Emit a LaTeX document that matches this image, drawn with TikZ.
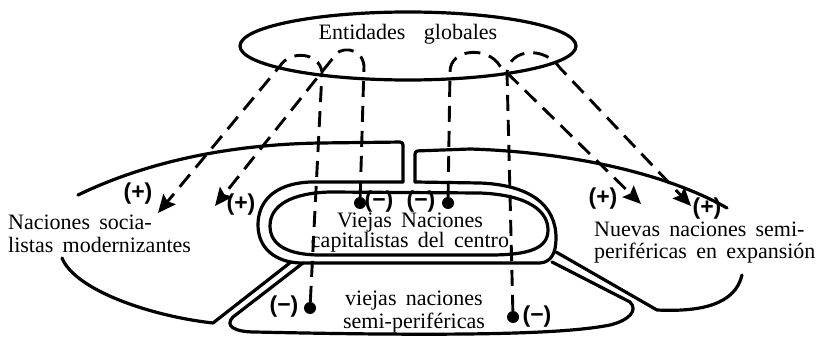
\documentclass[tikz,border=0pt]{standalone}
\usepackage{fontspec}
\setmainfont{Liberation Serif}
\newfontfamily\signfont{Liberation Sans}
\usetikzlibrary{arrows.meta, shapes.geometric}

\newcommand\lblfont{\fontsize{22}{23}\selectfont\setlength\spaceskip{0.42em}}

\tikzset{
  edgeline/.style={line width=3.2pt, line join=round, line cap=round},
  dashline/.style={line width=2.9pt, dash pattern=on 16pt off 9pt},
  arrowtip/.style={-{Stealth[length=18pt, width=16pt, inset=3pt]}},
  lbl/.style={inner sep=0pt, font=\lblfont},
  signlbl/.style={inner sep=0pt, font=\signfont\fontsize{23}{23}\selectfont\bfseries},
  blob/.style={circle, fill, inner sep=0pt, minimum size=12pt},
}

\begin{document}
\begin{tikzpicture}[x=1pt, y=-1pt]
  \useasboundingbox (0,0) rectangle (816,339);

  % Entidades globales
  \node[edgeline, draw, ellipse, minimum width=336pt, minimum height=68pt] (ent) at (408,46) {};
  \node[lbl, anchor=base] (enttxt) at (408,40) {Entidades\ \ globales};

  % left region (Naciones socialistas)
  \draw[edgeline, rounded corners=3pt] (78,195) .. controls (140,165) and (220,145) .. (320,143) -- (403,142) -- (403,182);
  \draw[edgeline] (291,262) -- (213,323) .. controls (150,316) and (75,290) .. (62,258);
  \node[lbl, align=left, anchor=west] (soc) at (8,234) {Naciones socia-\\listas modernizantes};

  % right region (Nuevas naciones)
  \draw[edgeline, rounded corners=3pt] (415,182) -- (415,151) -- (470,149) .. controls (560,152) and (660,170) .. (727,208);
  \draw[edgeline] (742,275) .. controls (735,305) and (700,312) .. (657,310) -- (556,252);
  \node[lbl, align=left, anchor=west] (nue) at (594,243) {Nuevas naciones semi-\\[-1pt]periféricas en expansión};

  % centre: outer ring + inner oval
  \draw[edgeline] (403,182) -- (310,182) .. controls (270,184) and (258,205) .. (258,225)
    .. controls (258,248) and (275,262) .. (300,263) -- (540,263)
    .. controls (552,262) and (556,252) .. (556,238) .. controls (556,205) and (530,185) .. (480,183) -- (415,182);
  \draw[edgeline] (330,192) -- (480,193) .. controls (530,195) and (548,212) .. (548,230)
    .. controls (548,248) and (530,255) .. (490,255) -- (320,255)
    .. controls (288,255) and (270,245) .. (270,226) .. controls (270,205) and (292,193) .. (330,192) -- cycle;
  \node[lbl, align=center] (centxt) at (410,233) {Viejas Naciones\\[-3pt]capitalistas del centro};

  % lower region (viejas naciones semi-perifericas)
  \draw[edgeline] (303,263) -- (233,317) .. controls (224,326) and (235,332) .. (255,332)
    .. controls (480,337) and (570,333) .. (610,325) .. controls (630,320) and (638,310) .. (630,302) -- (552,262);
  \node[lbl, align=center] (semi) at (414,312) {viejas naciones\\semi-periféricas};

  % ends of the dashed links
  \coordinate (tipA) at (158,213);
  \coordinate (tipB) at (215,206);
  \coordinate (tipC) at (641,204);
  \coordinate (tipD) at (691,206);
  \node[blob] (d1) at (360,203) {};
  \node[blob] (d2) at (448,203) {};
  \node[blob] (d3) at (310,308) {};
  \node[blob] (d4) at (513,317) {};

  % dashed links from the global entities
  \draw[dashline, arrowtip] (d3) -- (322,72) .. controls (319,52) and (290,50) .. (280,66) -- (tipA);
  \draw[dashline, arrowtip] (d1) -- (364,66) .. controls (362,46) and (338,46) .. (333,58) -- (tipB);
  \draw[dashline, arrowtip] (d2) -- (450,72) .. controls (450,48) and (488,46) .. (500,66) -- (tipC);
  \draw[dashline, arrowtip] (d4) -- (507,72) .. controls (510,48) and (545,46) .. (560,68) -- (tipD);

  % signs
  \node[signlbl] (pA) at (138,194) {(+)};
  \node[signlbl] (pB) at (241,205) {(+)};
  \node[signlbl] (pC) at (603,199) {(+)};
  \node[signlbl] (pD) at (707,209) {(+)};
  \node[signlbl] (m1) at (379,202) {(−)};
  \node[signlbl] (m2) at (421,202) {(−)};
  \node[signlbl] (m3) at (284,307) {(−)};
  \node[signlbl] (m4) at (537,317) {(−)};
\end{tikzpicture}
\end{document}
